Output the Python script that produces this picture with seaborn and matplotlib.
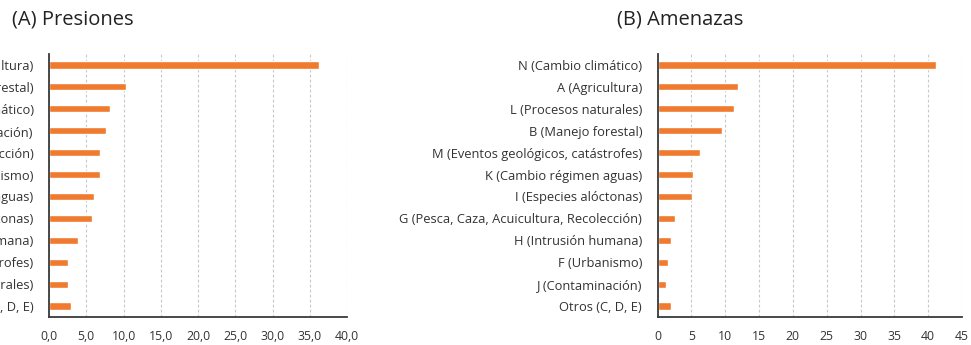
import matplotlib
matplotlib.use("Agg")
import matplotlib.pyplot as plt
from matplotlib.ticker import FuncFormatter, MultipleLocator
import seaborn as sns

# (A) Presiones
presiones_labels = [
    "A (Agricultura)",
    "B (Manejo forestal)",
    "N (Cambio climático)",
    "J (Contaminación)",
    "G (Pesca, Caza, Acuicultura, Recolección)",
    "F (Urbanismo)",
    "K (Cambio régimen aguas)",
    "I (Especies alóctonas)",
    "H (Intrusión humana)",
    "M (Eventos geológicos, catástrofes)",
    "L (Procesos naturales)",
    "Otros (C, D, E)",
]
presiones_values = [36.2, 10.4, 8.2, 7.7, 6.9, 6.9, 6.1, 5.8, 3.9, 2.5, 2.5, 2.9]

# (B) Amenazas
amenazas_labels = [
    "N (Cambio climático)",
    "A (Agricultura)",
    "L (Procesos naturales)",
    "B (Manejo forestal)",
    "M (Eventos geológicos, catástrofes)",
    "K (Cambio régimen aguas)",
    "I (Especies alóctonas)",
    "G (Pesca, Caza, Acuicultura, Recolección)",
    "H (Intrusión humana)",
    "F (Urbanismo)",
    "J (Contaminación)",
    "Otros (C, D, E)",
]
amenazas_values = [41.2, 11.9, 11.3, 9.5, 6.3, 5.3, 5.1, 2.6, 2.0, 1.6, 1.2, 2.0]

sns.set_theme(style="white")
plt.rcParams["font.family"] = ["Open Sans", "DejaVu Sans"]

BAR = "#F07B2F"
W, H, DPI = 971, 345, 100
fig = plt.figure(figsize=(W / DPI, H / DPI), dpi=DPI)


def panel(rect, labels, values, xmax, step, fmt):
    ax = fig.add_axes(rect)
    sns.barplot(x=values, y=labels, ax=ax, color=BAR, width=0.33,
                orient="h", saturation=1)
    ax.set_xlim(0, xmax)
    ax.set_ylim(11.5, -0.5)
    ax.xaxis.set_major_locator(MultipleLocator(step))
    ax.xaxis.set_major_formatter(FuncFormatter(fmt))
    ax.grid(axis="x", linestyle=(0, (2.5, 2)), color="#c8c8c8", linewidth=0.8)
    ax.set_axisbelow(True)
    for s in ("top", "right"):
        ax.spines[s].set_visible(False)
    for s in ("left", "bottom"):
        ax.spines[s].set_color("#3a3a3a")
        ax.spines[s].set_linewidth(1.3)
    ax.tick_params(axis="y", length=0, pad=11, labelsize=9.3, labelcolor="#333333")
    ax.tick_params(axis="x", length=0, pad=9, labelsize=8.8, labelcolor="#333333")
    ax.set_xlabel("")
    ax.set_ylabel("")
    return ax


def px_rect(x0, x1, ytop, ybot):
    return [x0 / W, 1 - ybot / H, (x1 - x0) / W, (ybot - ytop) / H]


panel(px_rect(49, 347, 54, 317), presiones_labels, presiones_values, 40, 5,
      lambda v, p: f"{v:.1f}".replace(".", ","))
panel(px_rect(657.5, 962, 54, 317), amenazas_labels, amenazas_values, 45, 5,
      lambda v, p: f"{v:.0f}")

fig.text(12 / W, 1 - 20 / H, "(A) Presiones", fontsize=14.5, color="#222222",
         va="center", ha="left")
fig.text(617 / W, 1 - 20 / H, "(B) Amenazas", fontsize=14.5, color="#222222",
         va="center", ha="left")

fig.savefig("out.png", dpi=DPI, facecolor="white")
